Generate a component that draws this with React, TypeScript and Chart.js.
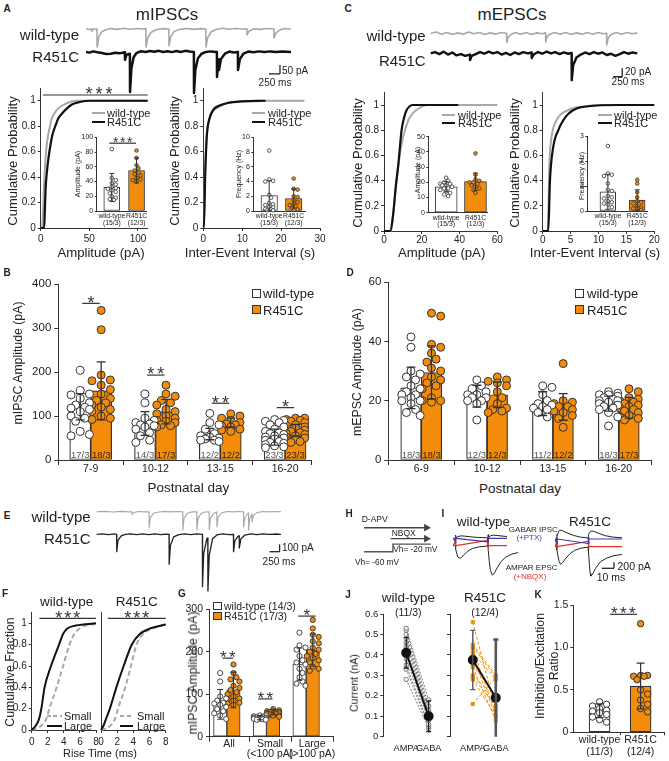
import React, { useEffect, useRef } from 'react';
import { Chart, registerables } from 'chart.js';

Chart.register(...registerables);

const FONT = '"Liberation Sans", Arial, Helvetica, sans-serif';
Chart.defaults.font.family = FONT;
Chart.defaults.color = '#222';

const ORANGE = '#f28c0a';
const AX = '#333333';
const LGRAY = '#a8a8a8';
const DARK = '#111111';
const BLUE = '#3c3cb4';
const RED = '#e5322d';

/* ===================== DATA ===================== */

/* A – representative mIPSC traces: [time (ms), current (pA)] */
const traceA_WT = [[0,2],[60,-3],[128,0],[130,-12],[180,1],[249,0],[252,-100],[290,-45],[360,-15],[450,-4],[560,3],[700,-2],[850,4],[1000,-1],[1150,3],[1300,0],[1359,2],[1362,-100],[1400,-50],[1480,-18],[1600,-3],[1750,2],[1880,0],[1883,-94],[1920,-45],[2000,-14],[2120,-2],[2300,3],[2450,-2],[2600,2],[2719,0],[2722,-100],[2760,-48],[2840,-15],[2950,-3],[3100,4],[3250,-1],[3400,3],[3550,0],[3650,1],[3652,-33],[3700,-12],[3800,1],[3950,-2],[4100,3],[4262,0],[4264,-50],[4310,-22],[4400,-5],[4500,3],[4650,0]];
const traceA_R451C = [[0,0],[80,-4],[160,3],[260,-2],[360,-6],[460,-12],[560,-10],[660,-5],[760,-8],[880,-2],[884,-44],[920,-15],[996,-10],[999,-222],[1030,-90],[1080,-30],[1150,-5],[1250,4],[1350,0],[1450,5],[1550,1],[1650,6],[1750,0],[1850,4],[1950,-1],[2050,5],[2150,0],[2250,6],[2350,2],[2447,0],[2450,-228],[2480,-100],[2540,-35],[2620,-10],[2720,0],[2820,3],[2969,0],[2972,-139],[3000,-60],[3014,-40],[3017,-100],[3060,-40],[3150,-10],[3250,2],[3350,-3],[3445,0],[3448,-100],[3490,-40],[3570,-10],[3680,2],[3800,-2],[3920,3],[4050,-1],[4180,3],[4300,0],[4450,2],[4650,0]];

/* A – cumulative distributions */
const aAmpWT_x = [0, 1.5, 2.5, 3.5, 4.5, 5.5, 7, 9, 11, 14, 18, 24, 30, 37, 110];
const aAmpWT_y = [0, 0, 0.15, 0.35, 0.5, 0.6, 0.7, 0.78, 0.85, 0.9, 0.94, 0.97, 0.99, 1, 1];
const aAmpMut_x = [0, 3.5, 4.2, 5, 6.5, 8, 10, 12, 15, 18, 22, 27, 32, 40, 51, 110];
const aAmpMut_y = [0, 0, 0.12, 0.3, 0.45, 0.55, 0.65, 0.73, 0.8, 0.86, 0.9, 0.94, 0.97, 0.99, 1, 1];
const aIeiWT_x = [0, 0.1, 0.4, 0.8, 1.5, 2.6, 4, 6, 10, 14.6, 26];
const aIeiWT_y = [0, 0, 0.4, 0.7, 0.85, 0.92, 0.95, 0.98, 0.995, 1, 1];
const aIeiMut_x = [0, 0.15, 0.5, 0.9, 1.6, 2.6, 4, 6, 10, 16];
const aIeiMut_y = [0, 0, 0.42, 0.72, 0.86, 0.93, 0.96, 0.98, 0.995, 1];

/* A – insets */
const aInsAmpWT = [84, 45, 42, 38, 36, 33, 31, 30, 28, 26, 24, 20, 18, 16, 15];
const aInsAmpMut = [82, 72, 62, 58, 55, 52, 50, 48, 45, 43, 42, 40];
const aInsAmpMean = [32, 55];
const aInsAmpSD = [19, 17];
const aInsFreqWT = [8.2, 4.3, 4.1, 4.0, 2.2, 1.8, 1.1, 0.9, 0.8, 0.6, 0.5, 0.3, 0.2, 0.1, 0.1];
const aInsFreqMut = [4.4, 3.0, 2.9, 2.0, 1.9, 1.5, 1.2, 1.0, 0.8, 0.6, 0.4, 0.2];
const aInsFreqMean = [2.1, 1.7];
const aInsFreqSD = [2.0, 1.3];
const insetLabels = [['wild-type', '(15/3)'], ['R451C', '(12/3)']];

/* C – representative mEPSC traces */
const traceC_WT = [[0,0],[150,3],[300,-2],[450,2],[600,-3],[750,1],[900,-2],[1050,3],[1200,-1],[1350,2],[1500,-3],[1650,1],[1800,-2],[1950,2],[2109,0],[2112,-22],[2150,-10],[2230,-3],[2350,2],[2500,-2],[2650,2],[2800,-3],[2950,1],[3100,-1],[3192,1],[3195,-21],[3230,-9],[3310,-2],[3450,2],[3600,-2],[3750,2],[3900,-3],[4050,1],[4200,-2],[4350,2],[4500,-2],[4650,2],[4800,-1],[4887,0],[4890,-28],[4930,-12],[5010,-3],[5150,2],[5300,-2],[5450,2],[5600,-1],[5740,1]];
const traceC_R451C = [[0,0],[120,3],[240,-2],[360,4],[480,-3],[600,2],[720,-5],[840,-2],[960,-6],[1090,-3],[1093,-16],[1140,-6],[1250,-2],[1370,3],[1490,-1],[1610,4],[1730,0],[1850,3],[1970,-3],[2090,1],[2210,-4],[2330,2],[2450,-2],[2570,3],[2700,0],[2804,2],[2807,-11],[2860,-3],[2980,3],[3100,-1],[3220,4],[3340,0],[3460,3],[3580,-2],[3700,2],[3820,-1],[3915,1],[3918,-64],[3960,-28],[4050,-10],[4170,-3],[4290,2],[4410,-2],[4530,3],[4650,-1],[4770,2],[4890,-4],[5010,-1],[5130,-6],[5250,-2],[5370,3],[5490,-1],[5610,2],[5740,0]];

/* C – cumulative distributions */
const cAmpWT_x = [0, 3.7, 5, 6.7, 8.5, 10.2, 12.9, 15, 18.2, 22.6, 60];
const cAmpWT_y = [0, 0, 0.15, 0.4, 0.62, 0.75, 0.88, 0.93, 0.97, 1, 1];
const cAmpMut_x = [0, 3.2, 4.9, 6.2, 7.6, 9.3, 10.5, 12, 15.5, 39.3];
const cAmpMut_y = [0, 0, 0.14, 0.35, 0.53, 0.8, 0.89, 0.96, 1, 1];
const cIeiWT_x = [0, 0.9, 1.2, 1.6, 2.5, 4.6, 7.6, 10.6, 16];
const cIeiWT_y = [0, 0, 0.54, 0.75, 0.88, 0.96, 0.99, 1, 1];
const cIeiMut_x = [0, 1.0, 1.3, 1.9, 2.8, 4.6, 8.2, 13.6, 20];
const cIeiMut_y = [0, 0, 0.4, 0.67, 0.8, 0.93, 0.99, 1, 1];

/* C – insets */
const cInsAmpWT = [23, 21, 20, 19, 19, 18, 18, 17, 16, 16, 15, 14, 13, 12, 11];
const cInsAmpMut = [39, 25, 22, 21, 20, 20, 19, 18, 17, 16, 15, 13];
const cInsAmpMean = [17.1, 20.4];
const cInsAmpSD = [3.3, 5.7];
const cInsFreqWT = [2.6, 1.5, 1.45, 1.4, 1.1, 0.85, 0.8, 0.6, 0.55, 0.5, 0.4, 0.35, 0.3, 0.25, 0.15];
const cInsFreqMut = [1.25, 1.1, 0.75, 0.55, 0.4, 0.35, 0.3, 0.2, 0.15, 0.1, 0.1, 0.05];
const cInsFreqMean = [0.77, 0.44];
const cInsFreqSD = [0.7, 0.41];

/* B – mIPSC amplitude by postnatal day */
const bGroups = ['7-9', '10-12', '13-15', '16-20'];
const bWT = [
  [204, 158, 150, 148, 140, 130, 125, 120, 118, 115, 110, 100, 95, 88, 65, 58, 55],
  [150, 130, 95, 90, 85, 82, 80, 78, 75, 70, 62, 55, 45, 40],
  [106, 85, 80, 70, 60, 55, 52, 50, 48, 45, 45, 42],
  [92, 90, 88, 85, 80, 75, 70, 65, 62, 60, 58, 55, 52, 50, 48, 45, 42, 40, 38, 35, 32, 30, 28],
];
const bMut = [
  [340, 296, 193, 182, 180, 170, 160, 150, 140, 135, 130, 125, 120, 115, 110, 100, 95, 92],
  [170, 150, 145, 135, 130, 125, 115, 110, 105, 100, 95, 90, 88, 85, 80, 78, 75],
  [105, 100, 95, 90, 85, 82, 80, 78, 75, 70, 68, 65],
  [95, 95, 92, 90, 88, 85, 80, 78, 75, 72, 70, 68, 65, 62, 60, 58, 55, 52, 50, 48, 45, 42, 40],
];
const bWTMean = [121, 83, 59, 52];
const bMutMean = [157, 110, 85, 67];
const bWTSD = [30, 27, 13, 18];
const bMutSD = [66, 28, 10, 14];
const bNWT = ['17/3', '14/3', '12/2', '23/3'];
const bNMut = ['18/3', '17/3', '12/2', '23/3'];
const bSigStars = [1, 2, 2, 1];
const bSigY = [356, 193, 129, 119];

/* D – mEPSC amplitude by postnatal day */
const dGroups = ['6-9', '10-12', '13-15', '16-20'];
const dWT = [
  [41.5, 38, 30, 29, 28, 27, 25, 24, 23, 22, 22, 21, 20, 20, 19, 17, 16, 15],
  [27, 25, 24, 23, 22, 22, 21, 21, 20, 20, 19, 13.5],
  [25, 24.5, 22, 20, 19, 18.5, 18, 17.5, 17, 16, 14.5],
  [23, 22.5, 22, 22, 21.5, 21, 20.5, 20, 20, 19.5, 19, 18.5, 18, 17.5, 17, 16, 14.5, 11.5],
];
const dMut = [
  [49.5, 48.5, 39, 38, 36, 34, 33, 31, 30, 28, 27, 26, 25, 24, 21, 20, 20, 19.5],
  [28, 27, 26.5, 26, 25, 23, 21, 19, 17.5, 17, 16.5, 16],
  [32.5, 20, 19.5, 19, 18, 18, 17, 16.5, 16, 15, 14, 11],
  [24, 23, 21, 20.5, 20, 19.5, 19, 18.5, 18, 17.5, 17, 16.5, 16, 15, 14.5, 14, 13.5],
];
const dWTMean = [24.3, 21.5, 19, 19];
const dMutMean = [29.5, 22, 17.9, 17.6];
const dWTSD = [7, 3.7, 4, 2.5];
const dMutSD = [9, 4.3, 4.5, 3.5];
const dNWT = ['18/3', '12/3', '11/2', '18/3'];
const dNMut = ['18/3', '12/3', '12/2', '17/3'];

/* E – representative traces */
const traceE_WT = [[0,0],[200,5],[400,-3],[600,4],[800,-2],[881,0],[884,-40],[930,-10],[1050,3],[1200,-2],[1306,0],[1309,-220],[1340,-80],[1420,-20],[1550,-3],[1700,4],[1850,-2],[2000,3],[2148,0],[2151,-247],[2180,-90],[2260,-22],[2380,-2],[2498,0],[2501,-247],[2530,-90],[2610,-22],[2700,-3],[2806,0],[2809,-247],[2840,-90],[2920,-22],[2998,-5],[3001,-207],[3030,-75],[3110,-18],[3250,3],[3400,-2],[3550,3],[3663,0],[3666,-207],[3700,-75],[3788,-15],[3791,-247],[3820,-90],[3873,-30],[3876,-140],[3910,-50],[4000,-12],[4150,3],[4300,-2],[4450,2],[4600,0]];
const traceE_R451C = [[0,0],[150,6],[300,-4],[450,5],[498,0],[501,-235],[530,-85],[610,-20],[720,-2],[850,5],[1000,-4],[1150,6],[1300,-3],[1450,5],[1600,-4],[1720,3],[1806,0],[1809,-405],[1840,-150],[1920,-35],[2050,-3],[2200,5],[2350,-4],[2500,5],[2638,0],[2641,-708],[2670,-260],[2750,-60],[2773,-50],[2776,-766],[2810,-280],[2890,-60],[3000,-8],[3150,5],[3300,-3],[3413,0],[3416,-235],[3450,-85],[3530,-25],[3556,-20],[3559,-185],[3600,-60],[3700,-10],[3850,5],[4000,-3],[4150,5],[4300,-2],[4450,4],[4600,0]];

/* F – rise-time cumulative fractions (ms) */
const fWtLarge_x = [0, 0.5, 0.9, 1.2, 1.6, 2.4, 3.4, 3.9, 4.4, 5.5, 8];
const fWtLarge_y = [0, 0.04, 0.1, 0.2, 0.4, 0.6, 0.8, 0.9, 0.95, 0.98, 1];
const fWtSmall_x = [0, 1.0, 1.8, 2.2, 3.1, 3.9, 4.7, 5.3, 6.4, 8];
const fWtSmall_y = [0, 0.03, 0.1, 0.2, 0.4, 0.6, 0.8, 0.9, 0.97, 0.995];
const fMutLarge_x = [0, 0.3, 0.6, 1.1, 1.9, 2.8, 3.8, 4.8, 6, 8];
const fMutLarge_y = [0, 0.04, 0.1, 0.2, 0.4, 0.6, 0.8, 0.9, 0.95, 0.99];
const fMutSmall_x = [0, 1.0, 1.7, 2.1, 3.0, 3.7, 4.4, 5.2, 6.3, 8];
const fMutSmall_y = [0, 0.03, 0.1, 0.2, 0.4, 0.6, 0.8, 0.9, 0.95, 0.99];

/* G – mIPSC amplitude by size class */
const gGroups = [['All'], ['Small', '(<100 pA)'], ['Large', '(>100 pA)']];
const gWT = [
  [150, 130, 95, 90, 85, 80, 78, 75, 70, 65, 60, 55, 50, 42],
  [50, 50, 48, 47, 46, 45, 45, 44, 43, 42, 42, 41, 40, 40],
  [245, 215, 210, 205, 190, 180, 175, 170, 160, 150, 140, 130, 125, 120],
];
const gMut = [
  [170, 150, 140, 135, 130, 120, 115, 110, 105, 100, 95, 90, 88, 85, 80, 78, 75],
  [65, 62, 60, 60, 58, 58, 57, 56, 55, 55, 54, 53, 52, 50, 50, 48, 47],
  [275, 255, 240, 235, 225, 220, 210, 205, 200, 195, 190, 185, 180, 175, 165, 160, 155],
];
const gWTMean = [76, 45, 171];
const gMutMean = [110, 57.5, 204];
const gWTSD = [35, 5, 38];
const gMutSD = [42, 6, 38];
const gSigStars = [2, 2, 1];
const gSigY = [185, 89, 284];

/* H – recording protocol */
const hTime = [6, 44, 44, 94];
const hVh = [-60, -60, -20, -20];
const hDrugs = ['D-APV', 'NBQX'];
const hDrugOn = [6, 41];
const hDrugOff = [88, 88];

/* I – evoked currents (ms, pA) */
const iWT_GABA = [[0,0],[1.9,0],[2,-120],[2.2,110],[2.5,0],[3.5,50],[6,80],[9,75],[14,50],[20,30],[28.4,15],[28.5,-130],[28.7,120],[29,20],[30.5,85],[33,105],[36,95],[40,75],[44,60]];
const iWT_PTX = [[0,0],[2,-120],[2.2,60],[2.5,0],[28.5,-120],[28.7,60],[29,0],[44,0]];
const iWT_AMPA = [[0,0],[1.9,0],[2,150],[2.2,-100],[3,-250],[4,-380],[5.7,-420],[7,-390],[9,-300],[12,-180],[16,-90],[21,-40],[28.4,-10],[28.5,180],[28.7,-150],[29.5,-500],[30.5,-820],[32,-977],[33.5,-930],[36,-740],[39,-540],[43,-380],[48,-280],[53,-230]];
const iWT_NBQX = [[0,0],[2,150],[2.2,-40],[2.5,0],[28.5,180],[28.7,-40],[29,0],[44,0]];
const iMut_GABA = [[0,0],[1.3,0],[1.4,-150],[1.6,150],[2,120],[3,260],[4,300],[6,280],[10,200],[15,120],[21,60],[27,35],[27.1,-150],[27.3,150],[28,200],[29.5,270],[32,250],[36,180],[41,110],[47,65],[54.5,40]];
const iMut_PTX = [[0,0],[1.4,-150],[1.6,60],[1.9,0],[27.1,-150],[27.3,60],[27.6,0],[54.5,0]];
const iMut_AMPA = [[0,0],[1.3,0],[1.4,150],[1.6,-100],[2.4,-300],[3.4,-500],[4.6,-590],[6,-540],[8.5,-400],[12,-240],[16,-120],[21,-50],[27,-15],[27.1,180],[27.3,-150],[28,-600],[28.6,-900],[29.2,-980],[30.5,-920],[33,-720],[37,-500],[42,-380],[48,-300],[54.5,-257]];
const iMut_NBQX = [[0,0],[1.4,150],[1.6,-40],[1.9,0],[27.1,180],[27.3,-40],[27.6,0],[54.5,0]];

/* J – AMPA / GABA currents (nA) */
const jWtAmpa = [0.53, 0.52, 0.50, 0.48, 0.46, 0.44, 0.41, 0.38, 0.35, 0.33, 0.28];
const jWtGaba = [0.18, 0.15, 0.13, 0.12, 0.11, 0.10, 0.09, 0.08, 0.06, 0.05, 0.04];
const jWtMean = [0.41, 0.10];
const jWtSD = [0.075, 0.075];
const jMutAmpa = [0.56, 0.45, 0.44, 0.43, 0.41, 0.39, 0.35, 0.34, 0.30, 0.29, 0.28, 0.16];
const jMutGaba = [0.13, 0.30, 0.29, 0.11, 0.28, 0.10, 0.20, 0.08, 0.19, 0.15, 0.10, 0.29];
const jMutMean = [0.375, 0.19];
const jMutSD = [0.145, 0.285];
const jCats = ['AMPA', 'GABA'];

/* K – inhibition / excitation ratio */
const kLabels = [['wild-type', '(11/3)'], ['R451C', '(12/4)']];
const kWT = [0.36, 0.33, 0.31, 0.28, 0.26, 0.25, 0.23, 0.21, 0.18, 0.15, 0.12];
const kMut = [1.28, 0.67, 0.67, 0.66, 0.66, 0.62, 0.50, 0.45, 0.38, 0.33, 0.28, 0.24];
const kMean = [0.254, 0.545];
const kSD = [0.08, 0.27];

/* ===================== HELPERS ===================== */

const pts = (xs: number[], ys: number[]) => xs.map((x, i) => ({ x, y: ys[i] }));
const pairs = (d: number[][]) => d.map(([x, y]) => ({ x, y }));

function place(area: number[], m: number[], hasY: boolean, hasX: boolean) {
  const left = Math.floor(area[0] - m[0]);
  const top = Math.floor(area[1] - m[1]);
  const right = Math.ceil(area[2] + m[2]);
  const bottom = Math.ceil(area[3] + m[3]);
  const pl = area[0] - left, pt = area[1] - top, pr = right - area[2], pb = bottom - area[3];
  return {
    left, top, w: right - left, h: bottom - top, pl, pt, pr, pb,
    padding: { left: hasY ? 0 : pl, top: pt, right: pr, bottom: hasX ? 0 : pb },
  };
}

function baseOptions(p: any) {
  return {
    responsive: false, maintainAspectRatio: false, animation: false, events: [], devicePixelRatio: 1,
    layout: { padding: p.padding },
    plugins: { legend: { display: false }, tooltip: { enabled: false }, title: { display: false } },
  };
}

function axisCfg(o: any, fit?: number) {
  const tl = o.tl ?? 3;
  const marks = o.marks;
  const cfg: any = {
    type: 'linear', min: o.min, max: o.max, display: o.show !== false, offset: false,
    grid: {
      display: tl > 0, drawOnChartArea: false, drawTicks: true, tickLength: tl, offset: false,
      color: AX, lineWidth: 1, tickWidth: 1,
      tickColor: marks ? (c: any) => (marks[c.index] ? AX : 'rgba(0,0,0,0)') : AX,
    },
    border: { display: o.border !== false, color: AX, width: 1 },
    ticks: {
      display: !!o.ticks,
      autoSkip: false, maxRotation: 0, minRotation: 0, padding: o.pad ?? 3,
      color: '#222', font: { size: o.size ?? 10, lineHeight: o.lh ?? 1.15 },
      callback: (v: number, i: number) => (o.labels ? o.labels[i] : String(v)),
    },
  };
  if (o.ticks) cfg.afterBuildTicks = (s: any) => { s.ticks = o.ticks.map((v: number) => ({ value: v })); };
  if (fit !== undefined) {
    cfg.afterFit = (s: any) => {
      if (s.isHorizontal()) s.height = fit; else s.width = fit;
      s.paddingLeft = 0; s.paddingRight = 0; s.paddingTop = 0; s.paddingBottom = 0;
    };
  }
  return cfg;
}

function drawDeco(chart: any, d: any) {
  const ctx = chart.ctx;
  const ca = chart.chartArea;
  const px = (v: number) => chart.scales.x.getPixelForValue(v);
  const py = (v: number, ax?: string) => chart.scales[ax || 'y'].getPixelForValue(v);
  ctx.save();
  for (const s of d.segs || []) {
    ctx.beginPath(); ctx.lineWidth = s.lw ?? 1.3; ctx.strokeStyle = s.color ?? '#222';
    ctx.moveTo(px(s.x1), py(s.y1, s.ax)); ctx.lineTo(px(s.x2), py(s.y2, s.ax)); ctx.stroke();
  }
  for (const e of d.errors || []) {
    const x = px(e.x);
    const yt = py(e.m + e.sd, e.ax);
    const yb = Math.min(py(e.m - e.sd, e.ax), ca.bottom);
    ctx.beginPath(); ctx.lineWidth = e.lw ?? 1.2; ctx.strokeStyle = e.color ?? AX;
    ctx.moveTo(x, yt); ctx.lineTo(x, yb);
    ctx.moveTo(x - e.cap / 2, yt); ctx.lineTo(x + e.cap / 2, yt);
    if (yb < ca.bottom - 0.5) { ctx.moveTo(x - e.cap / 2, yb); ctx.lineTo(x + e.cap / 2, yb); }
    ctx.stroke();
  }
  for (const b of d.brackets || []) {
    const y = py(b.y);
    ctx.beginPath(); ctx.lineWidth = b.lw ?? 1.2; ctx.strokeStyle = AX;
    ctx.moveTo(px(b.x1), y); ctx.lineTo(px(b.x2), y); ctx.stroke();
    const xc = b.xc !== undefined ? px(b.xc) : (px(b.x1) + px(b.x2)) / 2;
    ctx.font = `${b.size}px ${FONT}`; ctx.textAlign = 'center'; ctx.textBaseline = 'alphabetic'; ctx.fillStyle = '#333';
    for (let k = 0; k < b.n; k++) {
      const sx = xc + (k - (b.n - 1) / 2) * b.sp;
      ctx.fillText('*', sx, y - b.dy + 0.575 * b.size);
    }
  }
  for (const l of d.labels || []) {
    ctx.font = `${l.size}px ${FONT}`; ctx.textAlign = 'center'; ctx.textBaseline = 'alphabetic';
    ctx.fillStyle = l.color ?? '#222';
    ctx.fillText(l.text, px(l.x), py(l.y) + l.dy);
  }
  ctx.restore();
}

const decoPlugin = (d: any) => ({ id: 'deco', afterDatasetsDraw(chart: any) { drawDeco(chart, d || {}); } });

function swarm(vals: number[], yPx: number, r: number, halfW: number) {
  const idx = vals.map((_, i) => i).sort((a, b) => vals[b] - vals[a]);
  const placed: { x: number; y: number }[] = [];
  const out = new Array(vals.length).fill(0);
  const step = r * 1.15;
  const n = Math.max(0, Math.floor(halfW / step));
  const cands = [0];
  for (let k = 1; k <= n; k++) cands.push(k * step, -k * step);
  const minD = 2 * r * 0.92;
  for (const i of idx) {
    const y = vals[i] * yPx;
    let best = 0, bestScore = Infinity;
    for (const c of cands) {
      let ov = 0;
      for (const q of placed) { const dd = Math.hypot(q.x - c, q.y - y); if (dd < minD) ov += minD - dd; }
      if (ov === 0) { best = c; bestScore = 0; break; }
      if (ov < bestScore) { bestScore = ov; best = c; }
    }
    placed.push({ x: best, y }); out[i] = best;
  }
  return out;
}

function catTicks(centers: number[], labels: any[], bounds: number[]) {
  const items = [
    ...centers.map((v, i) => ({ v, l: labels[i], m: false })),
    ...bounds.map((v) => ({ v, l: '', m: true })),
  ].sort((a, b) => a.v - b.v);
  return { ticks: items.map((i) => i.v), labels: items.map((i) => i.l), marks: items.map((i) => i.m) };
}

const scaleBar = (x0: number, y0: number, dx: number, dy: number, ax?: string) => [
  { x1: x0, y1: y0, x2: x0 + dx, y2: y0, ax },
  { x1: x0 + dx, y1: y0, x2: x0 + dx, y2: y0 + dy, ax },
];

function traceChart(area: number[], xr: number[], yAxes: Record<string, number[]>, series: any[], deco?: any) {
  const p = place(area, [0, 0, 0, 0], false, false);
  const make = () => {
    const scales: any = { x: { type: 'linear', display: false, min: xr[0], max: xr[1] }, y: { display: false } };
    for (const id of Object.keys(yAxes)) scales[id] = { type: 'linear', display: false, min: yAxes[id][0], max: yAxes[id][1] };
    const datasets = series.map((s) => ({
      type: 'scatter', showLine: true, data: pairs(s.d), yAxisID: s.ax || 'y',
      borderColor: s.color, borderWidth: s.lw ?? 1, pointRadius: 0, tension: 0, clip: false, borderJoinStyle: 'round',
    }));
    return { type: 'scatter', data: { datasets }, options: { ...baseOptions(p), scales }, plugins: [decoPlugin(deco)] };
  };
  return { p, make };
}

function cumChart(o: any) {
  const p = place(o.area, o.m, true, true);
  const make = () => {
    const datasets = o.series.map((s: any) => ({
      type: 'scatter', showLine: true, data: pts(s.x, s.y), borderColor: s.color, borderWidth: s.lw ?? 2,
      borderDash: s.dash || [], pointRadius: 0, cubicInterpolationMode: 'monotone', clip: false,
    }));
    return {
      type: 'scatter', data: { datasets },
      options: { ...baseOptions(p), scales: { x: axisCfg(o.x, p.pb), y: axisCfg(o.y, p.pl) } },
      plugins: [decoPlugin(o.deco)],
    };
  };
  return { p, make };
}

function barChart(o: any) {
  const p = place(o.area, o.m, true, true);
  const make = () => {
    const xPx = (o.area[2] - o.area[0]) / (o.x.max - o.x.min);
    const yPx = (o.area[3] - o.area[1]) / (o.y.max - o.y.min);
    const datasets: any[] = [];
    const errors: any[] = [];
    const labels: any[] = [];
    [0, 1].forEach((k) => {
      const bars = o.bars.filter((b: any) => b.k === k);
      const fill = k === 0 ? '#ffffff' : ORANGE;
      datasets.push({
        type: 'bar', data: bars.map((b: any) => ({ x: b.x, y: b.mean })), backgroundColor: fill,
        borderColor: AX, borderWidth: o.bw ?? 1.2, borderSkipped: false, barThickness: o.barPx, grouped: false, order: 3,
      });
      const sc: any[] = [];
      bars.forEach((b: any) => {
        const off = swarm(b.pts, yPx, o.r, o.barPx * (o.spread ?? 0.4));
        b.pts.forEach((v: number, i: number) => sc.push({ x: b.x + off[i] / xPx, y: v }));
        errors.push({ x: b.x, m: b.mean, sd: b.sd, cap: o.cap, lw: o.elw ?? 1.2 });
        if (b.nl) labels.push({ x: b.x, y: 0, dy: o.ndy ?? -2.5, text: b.nl, size: o.nSize ?? 9.5, color: k === 0 ? '#555' : '#3a2606' });
      });
      datasets.push({
        type: 'scatter', data: sc, pointRadius: o.r, pointBackgroundColor: fill, pointBorderColor: AX,
        pointBorderWidth: o.plw ?? 1, order: 1, clip: false,
      });
    });
    return {
      type: 'bar', data: { datasets },
      options: { ...baseOptions(p), scales: { x: axisCfg(o.x, p.pb), y: axisCfg(o.y, p.pl) } },
      plugins: [decoPlugin({ errors, labels, brackets: o.brackets || [] })],
    };
  };
  return { p, make };
}

function jChart(o: any) {
  const p = place(o.area, o.m, true, true);
  const make = () => {
    const datasets: any[] = o.ampa.map((a: number, i: number) => ({
      type: 'scatter', showLine: true, data: [{ x: 0, y: a }, { x: 1, y: o.gaba[i] }],
      borderColor: o.pc, borderWidth: 1, borderDash: o.dash, pointRadius: o.pr, pointStyle: o.ps,
      pointBackgroundColor: o.pfill, pointBorderColor: o.pc, pointBorderWidth: 1, order: 2, clip: false,
    }));
    datasets.push({
      type: 'scatter', showLine: true, data: [{ x: 0, y: o.mean[0] }, { x: 1, y: o.mean[1] }],
      borderColor: DARK, borderWidth: 2, pointRadius: 4, pointBackgroundColor: DARK, pointBorderColor: DARK, order: 0, clip: false,
    });
    const errors = [0, 1].map((i) => ({ x: i, m: o.mean[i], sd: o.sd[i], cap: 5, lw: o.elw[i], color: o.ec }));
    return {
      type: 'scatter', data: { datasets },
      options: { ...baseOptions(p), scales: { x: axisCfg(o.x, p.pb), y: axisCfg(o.y, p.pl) } },
      plugins: [decoPlugin({ errors })],
    };
  };
  return { p, make };
}

function hChart() {
  const area = [355, 515, 440, 565];
  const p = place(area, [0, 0, 0, 0], false, false);
  const make = () => {
    const datasets: any[] = [{
      type: 'scatter', showLine: true, data: pts(hTime, hVh), yAxisID: 'yv', borderColor: '#555', borderWidth: 1.4, pointRadius: 0, clip: false,
    }];
    hDrugs.forEach((_, i) => {
      const row = hDrugs.length - i;
      datasets.push({
        type: 'scatter', showLine: true, data: [{ x: hDrugOn[i], y: row }, { x: hDrugOff[i], y: row }], yAxisID: 'yd',
        borderColor: '#444', borderWidth: 1.4, pointRadius: [0, 4.5], pointStyle: 'triangle', rotation: 90,
        pointBackgroundColor: '#444', pointBorderColor: '#444', pointBorderWidth: 0, clip: false,
      });
    });
    return {
      type: 'scatter', data: { datasets },
      options: {
        ...baseOptions(p),
        scales: {
          x: { type: 'linear', display: false, min: 0, max: 100 }, y: { display: false },
          yv: { type: 'linear', display: false, min: -106, max: 109 },
          yd: { type: 'linear', display: false, min: -1, max: 2.75 },
        },
      },
    };
  };
  return { p, make };
}

/* ===================== CHART SPECS ===================== */

const bBw = 21 / 65;
const dBw = 20.5 / 65.85;
const gBw = 13.3 / 39.7;

const cumY = { min: 0, max: 1.1, ticks: [0, 0.2, 0.4, 0.6, 0.8, 1], size: 10, tl: 3, pad: 2 };
const insetX = (min: number, max: number) => ({ min, max, ticks: [0, 1], labels: insetLabels, size: 6.8, lh: 1.0, tl: 0, pad: 1.6 });

const SPECS = [
  // A traces
  traceChart([86, 20, 291, 55], [0, 4650], { y: [-144, 50] }, [{ d: traceA_WT, color: LGRAY, lw: 1.6 }]),
  traceChart([86, 44, 291, 100], [0, 4650], { y: [-267, 44] }, [{ d: traceA_R451C, color: DARK, lw: 2.5 }], { segs: scaleBar(4150, -122, 250, 50) }),
  // A cumulative
  cumChart({
    area: [40.7, 88, 147.7, 228], m: [34, 6, 6, 20],
    x: { min: 0, max: 110, ticks: [0, 50, 100], size: 10, tl: 3, pad: 2.3 }, y: cumY,
    series: [{ x: aAmpMut_x, y: aAmpMut_y, color: DARK, lw: 2.2 }, { x: aAmpWT_x, y: aAmpWT_y, color: LGRAY, lw: 2 }],
    deco: { brackets: [{ x1: 2.4, x2: 110, y: 1.045, n: 3, size: 18, sp: 10, dy: 5, xc: 60 }] },
  }),
  barChart({
    area: [96.7, 137.3, 148.3, 211], m: [16, 5, 2, 18],
    x: insetX(-0.61, 1.39), y: { min: 0, max: 100, ticks: [0, 20, 40, 60, 80, 100], size: 7, tl: 2, pad: 1.5 },
    barPx: 16, r: 1.8, cap: 5, elw: 1, bw: 1, plw: 0.8, spread: 0.35,
    bars: [
      { x: 0, mean: aInsAmpMean[0], sd: aInsAmpSD[0], pts: aInsAmpWT, k: 0 },
      { x: 1, mean: aInsAmpMean[1], sd: aInsAmpSD[1], pts: aInsAmpMut, k: 1 },
    ],
    brackets: [{ x1: -0.1, x2: 0.98, y: 92, n: 3, size: 14, sp: 7, dy: 4 }],
  }),
  cumChart({
    area: [203.3, 88, 320, 228], m: [34, 6, 8, 20],
    x: { min: 0, max: 30, ticks: [0, 10, 20, 30], size: 10, tl: 3, pad: 2.3 }, y: cumY,
    series: [{ x: aIeiMut_x, y: aIeiMut_y, color: DARK, lw: 2.2 }, { x: aIeiWT_x, y: aIeiWT_y, color: LGRAY, lw: 2 }],
  }),
  barChart({
    area: [253.3, 137.3, 308, 211], m: [16, 5, 2, 18],
    x: insetX(-0.65, 1.47), y: { min: 0, max: 10, ticks: [0, 2, 4, 6, 8, 10], size: 7, tl: 2, pad: 1.5 },
    barPx: 16.5, r: 1.8, cap: 5, elw: 1, bw: 1, plw: 0.8, spread: 0.35,
    bars: [
      { x: 0, mean: aInsFreqMean[0], sd: aInsFreqSD[0], pts: aInsFreqWT, k: 0 },
      { x: 1, mean: aInsFreqMean[1], sd: aInsFreqSD[1], pts: aInsFreqMut, k: 1 },
    ],
  }),
  // C traces
  traceChart([430.7, 25, 637.3, 50], [0, 5740], { y: [-39.8, 19.8] }, [{ d: traceC_WT, color: LGRAY, lw: 1.6 }]),
  traceChart([430.7, 45, 637.3, 85], [0, 5740], { y: [-75.5, 19.8] }, [{ d: traceC_R451C, color: DARK, lw: 2.4 }], { segs: scaleBar(5072, -55.7, 250, 20) }),
  // C cumulative
  cumChart({
    area: [384, 92.4, 497.3, 231], m: [34, 6, 6, 20],
    x: { min: 0, max: 60, ticks: [0, 20, 40, 60], size: 10, tl: 3, pad: 0.5 }, y: cumY,
    series: [{ x: cAmpMut_x, y: cAmpMut_y, color: DARK, lw: 2.2 }, { x: cAmpWT_x, y: cAmpWT_y, color: LGRAY, lw: 2 }],
  }),
  barChart({
    area: [428.3, 136.7, 490, 212.7], m: [16, 5, 2, 18],
    x: insetX(-0.61, 1.4), y: { min: 0, max: 50, ticks: [0, 10, 20, 30, 40, 50], size: 7, tl: 2, pad: 1.5 },
    barPx: 22, r: 1.8, cap: 5, elw: 1, bw: 1, plw: 0.8, spread: 0.35,
    bars: [
      { x: 0, mean: cInsAmpMean[0], sd: cInsAmpSD[0], pts: cInsAmpWT, k: 0 },
      { x: 1, mean: cInsAmpMean[1], sd: cInsAmpSD[1], pts: cInsAmpMut, k: 1 },
    ],
  }),
  cumChart({
    area: [542.7, 92.4, 654.3, 231], m: [34, 6, 10, 20],
    x: { min: 0, max: 20, ticks: [0, 5, 10, 15, 20], size: 10, tl: 3, pad: 0.5 }, y: cumY,
    series: [{ x: cIeiMut_x, y: cIeiMut_y, color: DARK, lw: 2.2 }, { x: cIeiWT_x, y: cIeiWT_y, color: LGRAY, lw: 2 }],
  }),
  barChart({
    area: [587.3, 136, 650, 211], m: [16, 5, 2, 18],
    x: insetX(-0.7, 1.34), y: { min: 0, max: 3, ticks: [0, 1, 2, 3], size: 7, tl: 2, pad: 1.5 },
    barPx: 15.7, r: 1.8, cap: 5, elw: 1, bw: 1, plw: 0.8, spread: 0.35,
    bars: [
      { x: 0, mean: cInsFreqMean[0], sd: cInsFreqSD[0], pts: cInsFreqWT, k: 0 },
      { x: 1, mean: cInsFreqMean[1], sd: cInsFreqSD[1], pts: cInsFreqMut, k: 1 },
    ],
  }),
  // B
  barChart({
    area: [58.3, 284, 311.7, 460], m: [40, 8, 4, 20],
    x: { min: -0.5, max: 3.4, ...catTicks([0, 1, 2, 3], bGroups, [-0.5, 0.5, 1.5, 2.5, 3.4]), size: 10.5, tl: 5, pad: -1.5 },
    y: { min: 0, max: 400, ticks: [0, 100, 200, 300, 400], size: 11.5, tl: 4, pad: 3 },
    barPx: 21, r: 4, cap: 9, elw: 1.3, bw: 1.2, plw: 1, spread: 0.55,
    bars: bGroups.flatMap((_, i) => [
      { x: i - bBw / 2, mean: bWTMean[i], sd: bWTSD[i], pts: bWT[i], k: 0, nl: bNWT[i] },
      { x: i + bBw / 2, mean: bMutMean[i], sd: bMutSD[i], pts: bMut[i], k: 1, nl: bNMut[i] },
    ]),
    brackets: bSigY.map((y, i) => ({ x1: i - 0.13, x2: i + 0.14, y, n: bSigStars[i], size: 18, sp: 10, dy: 5 })),
  }),
  // D
  barChart({
    area: [388.3, 282, 651.7, 460], m: [40, 8, 6, 20],
    x: { min: -0.5, max: 3.5, ...catTicks([0, 1, 2, 3], dGroups, [-0.5, 0.5, 1.5, 2.5, 3.5]), size: 10.5, tl: 5, pad: -1.5 },
    y: { min: 0, max: 60, ticks: [0, 20, 40, 60], size: 11.5, tl: 4, pad: 3 },
    barPx: 20.5, r: 4, cap: 9, elw: 1.3, bw: 1.2, plw: 1, spread: 0.55,
    bars: dGroups.flatMap((_, i) => [
      { x: i - dBw / 2, mean: dWTMean[i], sd: dWTSD[i], pts: dWT[i], k: 0, nl: dNWT[i] },
      { x: i + dBw / 2, mean: dMutMean[i], sd: dMutSD[i], pts: dMut[i], k: 1, nl: dNMut[i] },
    ]),
  }),
  // E traces
  traceChart([96.7, 500, 281, 540], [0, 4600], { y: [-382, 158] }, [{ d: traceE_WT, color: LGRAY, lw: 1.1 }]),
  traceChart([96.7, 525, 281, 600], [0, 4600], { y: [-888, 126] }, [{ d: traceE_R451C, color: '#222', lw: 1.3 }], { segs: scaleBar(4315, -235, 250, 100) }),
  // F
  cumChart({
    area: [31.7, 612.7, 96, 730], m: [24, 6, 3, 18],
    x: { min: 0, max: 8, ticks: [0, 2, 4, 6, 8], size: 10, tl: 3, pad: 3 }, y: cumY,
    series: [{ x: fWtLarge_x, y: fWtLarge_y, color: DARK, lw: 2 }, { x: fWtSmall_x, y: fWtSmall_y, color: LGRAY, lw: 2, dash: [5, 3] }],
    deco: { brackets: [{ x1: 0.96, x2: 8, y: 1.047, n: 3, size: 18, sp: 9, dy: 5 }] },
  }),
  cumChart({
    area: [101, 612.7, 165.7, 730], m: [4, 6, 4, 18],
    x: { min: 0, max: 8, ticks: [0, 2, 4, 6, 8], size: 10, tl: 3, pad: 3 }, y: { min: 0, max: 1.1, tl: 0 },
    series: [{ x: fMutLarge_x, y: fMutLarge_y, color: DARK, lw: 2 }, { x: fMutSmall_x, y: fMutSmall_y, color: LGRAY, lw: 2, dash: [5, 3] }],
    deco: { brackets: [{ x1: 0.84, x2: 8, y: 1.047, n: 3, size: 18, sp: 9, dy: 5 }] },
  }),
  // G
  barChart({
    area: [209, 609.3, 333.3, 736.7], m: [30, 6, 4, 24],
    x: { min: -0.45, max: 2.68, ...catTicks([0.055, 1.09, 2.15], gGroups, [-0.45, 0.56, 1.62, 2.68]), size: 10.5, lh: 1.0, tl: 5, pad: -3 },
    y: { min: 0, max: 300, ticks: [0, 100, 200, 300], size: 10.5, tl: 3, pad: 3 },
    barPx: 13.3, r: 2.6, cap: 6, elw: 1.1, bw: 1, plw: 0.9, spread: 0.5,
    bars: gGroups.flatMap((_, i) => [
      { x: i - gBw / 2, mean: gWTMean[i], sd: gWTSD[i], pts: gWT[i], k: 0 },
      { x: i + gBw / 2, mean: gMutMean[i], sd: gMutSD[i], pts: gMut[i], k: 1 },
    ]),
    brackets: [
      { x1: -0.11, x2: 0.16, y: gSigY[0], n: gSigStars[0], size: 17, sp: 9, dy: 5 },
      { x1: 0.79, x2: 1.15, y: gSigY[1], n: gSigStars[1], size: 17, sp: 9, dy: 5 },
      { x1: 1.8, x2: 2.24, y: gSigY[2], n: gSigStars[2], size: 17, sp: 9, dy: 5 },
    ],
  }),
  // H
  hChart(),
  // I
  traceChart([453, 518, 518, 582], [0, 53], { yA: [-1210, 923], yG: [-1457, 677] }, [
    { d: iWT_PTX, color: BLUE, lw: 1.2, ax: 'yG' },
    { d: iWT_NBQX, color: RED, lw: 1.2, ax: 'yA' },
    { d: iWT_GABA, color: '#222', lw: 1, ax: 'yG' },
    { d: iWT_AMPA, color: '#222', lw: 1, ax: 'yA' },
  ]),
  traceChart([555, 518, 622, 582], [0, 54.5], { yA: [-1177, 957], yG: [-1433, 700] }, [
    { d: iMut_PTX, color: BLUE, lw: 1.2, ax: 'yG' },
    { d: iMut_NBQX, color: RED, lw: 1.2, ax: 'yA' },
    { d: iMut_GABA, color: '#222', lw: 1, ax: 'yG' },
    { d: iMut_AMPA, color: '#222', lw: 1, ax: 'yA' },
  ], { segs: scaleBar(38, -720, 10, 200, 'yA') }),
  // J
  jChart({
    area: [383.3, 612.4, 445, 736.7], m: [26, 4, 2, 18],
    x: { min: -1.02, max: 1.55, ticks: [0, 1], labels: jCats, size: 9.2, tl: 0, pad: 6, border: false },
    y: { min: 0, max: 0.6, ticks: [0, 0.1, 0.2, 0.3, 0.4, 0.5, 0.6], size: 9.5, tl: 3, pad: 2 },
    ampa: jWtAmpa, gaba: jWtGaba, mean: jWtMean, sd: jWtSD, elw: [1.2, 1.2],
    pc: '#7a7a7a', dash: [2, 1.5], pr: 2.2, ps: 'circle', pfill: 'rgba(255,255,255,0.7)', ec: '#111',
  }),
  jChart({
    area: [450, 612.4, 515, 736.7], m: [6, 4, 2, 18],
    x: { min: -0.99, max: 1.66, ticks: [0, 1], labels: jCats, size: 9.2, tl: 0, pad: 6, border: false },
    y: { min: 0, max: 0.6, ticks: [0, 0.1, 0.2, 0.3, 0.4, 0.5, 0.6], labels: ['', '', '', '', '', '', ''], size: 9.5, tl: 3, pad: 0 },
    ampa: jMutAmpa, gaba: jMutGaba, mean: jMutMean, sd: jMutSD, elw: [1.4, 2.6],
    pc: ORANGE, dash: [3, 2], pr: 2.2, ps: 'rect', pfill: ORANGE, ec: '#555',
  }),
  // K
  barChart({
    area: [573.3, 605, 668, 732.3], m: [24, 5, 1, 28],
    x: { min: -0.64, max: 1.57, ...catTicks([0, 1], kLabels, [0.52, 1.57]), size: 10.5, lh: 1.1, tl: 3, pad: -0.5 },
    y: { min: 0, max: 1.5, ticks: [0, 0.5, 1, 1.5], labels: ['0', '0.5', '1.0', '1.5'], size: 10.5, tl: 3, pad: 2 },
    barPx: 21, r: 3.2, cap: 8, elw: 1.2, bw: 1.2, plw: 1, spread: 0.45,
    bars: [
      { x: 0, mean: kMean[0], sd: kSD[0], pts: kWT, k: 0 },
      { x: 1, mean: kMean[1], sd: kSD[1], pts: kMut, k: 1 },
    ],
    brackets: [{ x1: 0.25, x2: 0.91, y: 1.39, n: 3, size: 17, sp: 9, dy: 5 }],
  }),
];

/* ===================== TEXT / LEGEND ===================== */

type TxP = { s: string; x: number; y: number; size?: number; a?: string; rot?: number; bold?: boolean; c?: string };

const TEXTS: TxP[] = [
  // panel letters
  { s: 'A', x: 7, y: 9, size: 10, bold: true }, { s: 'B', x: 7, y: 273, size: 10, bold: true },
  { s: 'C', x: 348, y: 9, size: 10, bold: true }, { s: 'D', x: 350, y: 273, size: 10, bold: true },
  { s: 'E', x: 7, y: 516, size: 10, bold: true }, { s: 'F', x: 5, y: 594, size: 10, bold: true },
  { s: 'G', x: 182, y: 594, size: 10, bold: true }, { s: 'H', x: 349, y: 514, size: 10, bold: true },
  { s: 'I', x: 443, y: 514, size: 10, bold: true }, { s: 'J', x: 348, y: 595, size: 10, bold: true },
  { s: 'K', x: 538, y: 595, size: 10, bold: true },
  // A
  { s: 'mIPSCs', x: 167, y: 14, size: 17 },
  { s: 'wild-type', x: 79, y: 34, size: 15, a: 'e' }, { s: 'R451C', x: 79, y: 56, size: 15, a: 'e' },
  { s: '50 pA', x: 282, y: 71, size: 10, a: 's' }, { s: '250 ms', x: 275, y: 82.5, size: 10 },
  { s: 'Cumulative Probability', x: 12, y: 161, size: 13, rot: -90 },
  { s: 'Amplitude (pA)', x: 101, y: 253, size: 13.2 },
  { s: 'Amplitude (pA)', x: 77, y: 174, size: 7, rot: -90 },
  { s: 'wild-type', x: 107, y: 112.7, size: 11, a: 's' }, { s: 'R451C', x: 107, y: 122.3, size: 11, a: 's' },
  { s: 'Cumulative Probability', x: 173.5, y: 161, size: 13, rot: -90 },
  { s: 'Inter-Event Interval (s)', x: 250, y: 253, size: 13.2 },
  { s: 'Frequency (Hz)', x: 238, y: 174, size: 7, rot: -90 },
  { s: 'wild-type', x: 268, y: 112.7, size: 11, a: 's' }, { s: 'R451C', x: 268, y: 122.3, size: 11, a: 's' },
  // C
  { s: 'mEPSCs', x: 512, y: 14, size: 17 },
  { s: 'wild-type', x: 425.7, y: 34.7, size: 15, a: 'e' }, { s: 'R451C', x: 425.7, y: 59.7, size: 15, a: 'e' },
  { s: '20 pA', x: 625, y: 72, size: 10, a: 's' }, { s: '250 ms', x: 628, y: 82, size: 10 },
  { s: 'Cumulative Probability', x: 356.7, y: 163, size: 13, rot: -90 },
  { s: 'Amplitude (pA)', x: 441.7, y: 253.3, size: 13.2 },
  { s: 'Amplitude (pA)', x: 416.7, y: 170, size: 7, rot: -90 },
  { s: 'wild-type', x: 458, y: 115, size: 11, a: 's' }, { s: 'R451C', x: 458, y: 123.3, size: 11, a: 's' },
  { s: 'Cumulative Probability', x: 514, y: 163, size: 13, rot: -90 },
  { s: 'Inter-Event Interval (s)', x: 595, y: 253.3, size: 13.2 },
  { s: 'Frequency (Hz)', x: 580.7, y: 176, size: 7, rot: -90 },
  { s: 'wild-type', x: 614, y: 115, size: 11, a: 's' }, { s: 'R451C', x: 614, y: 123.3, size: 11, a: 's' },
  // B
  { s: 'mIPSC Amplitude (pA)', x: 18, y: 363, size: 12.3, rot: -90 },
  { s: 'Postnatal day', x: 188.3, y: 488.3, size: 13.5 },
  { s: 'wild-type', x: 263, y: 293, size: 13, a: 's' }, { s: 'R451C', x: 263, y: 309.7, size: 13, a: 's' },
  // D
  { s: 'mEPSC Amplitude (pA)', x: 356.7, y: 371.7, size: 12.3, rot: -90 },
  { s: 'Postnatal day', x: 520, y: 489, size: 13.5 },
  { s: 'wild-type', x: 587, y: 293, size: 13, a: 's' }, { s: 'R451C', x: 587, y: 309.7, size: 13, a: 's' },
  // E
  { s: 'wild-type', x: 90.7, y: 515.5, size: 15, a: 'e' }, { s: 'R451C', x: 90.7, y: 537.5, size: 15, a: 'e' },
  { s: '100 pA', x: 282, y: 548.3, size: 10, a: 's' }, { s: '250 ms', x: 279, y: 561.7, size: 10 },
  // F
  { s: 'wild-type', x: 66.7, y: 601.7, size: 13.5 }, { s: 'R451C', x: 136.7, y: 601.7, size: 13.5 },
  { s: 'Cumulative Fraction', x: 10, y: 671.7, size: 12.3, rot: -90 },
  { s: 'Rise Time (ms)', x: 100, y: 753.3, size: 11 },
  { s: 'Small', x: 64, y: 716, size: 11, a: 's' }, { s: 'Large', x: 64, y: 725.5, size: 11, a: 's' },
  { s: 'Small', x: 137, y: 716, size: 11, a: 's' }, { s: 'Large', x: 137, y: 725.5, size: 11, a: 's' },
  // G
  { s: 'mIPSC Amplitude (pA)', x: 193.3, y: 673.3, size: 12.3, rot: -90 },
  { s: 'wild-type (14/3)', x: 224, y: 605.7, size: 10.5, a: 's' }, { s: 'R451C (17/3)', x: 224, y: 615.7, size: 10.5, a: 's' },
  // H
  { s: 'D-APV', x: 361.7, y: 519, size: 8.5, a: 's' }, { s: 'NBQX', x: 391.7, y: 533.3, size: 8.5, a: 's' },
  { s: 'Vh= -20 mV', x: 393.3, y: 549, size: 8.3, a: 's' }, { s: 'Vh= -60 mV', x: 355, y: 561.7, size: 8.3, a: 's' },
  // I
  { s: 'wild-type', x: 483.3, y: 521.7, size: 13.5 }, { s: 'R451C', x: 590, y: 521.7, size: 13.5 },
  { s: 'GABAR IPSC', x: 533.3, y: 530, size: 8 }, { s: '(+PTX)', x: 529.2, y: 537.7, size: 8, c: BLUE },
  { s: 'AMPAR EPSC', x: 531.7, y: 568.3, size: 8 }, { s: '(+NBQX)', x: 530, y: 576.7, size: 8, c: RED },
  { s: '200 pA', x: 617.5, y: 566, size: 10.5, a: 's' }, { s: '10 ms', x: 611, y: 576.5, size: 10.5 },
  // J
  { s: 'wild-type', x: 408.3, y: 598.3, size: 13.5 }, { s: '(11/3)', x: 408.3, y: 611.7, size: 10.5 },
  { s: 'R451C', x: 485, y: 598.3, size: 13.5 }, { s: '(12/4)', x: 485, y: 611.7, size: 10.5 },
  { s: 'Current (nA)', x: 354, y: 682.5, size: 10.5, rot: -90 },
  // K
  { s: 'Inhibition/Excitation', x: 540, y: 666, size: 12.3, rot: -90 },
  { s: 'Ratio', x: 553.5, y: 666, size: 12.3, rot: -90 },
];

const LINES = [
  { x1: 92, x2: 105, y: 112.7, w: 2, c: LGRAY }, { x1: 92, x2: 105, y: 122.3, w: 2.4, c: DARK },
  { x1: 251.7, x2: 265, y: 112.7, w: 2, c: LGRAY }, { x1: 251.7, x2: 265, y: 122.3, w: 2.4, c: DARK },
  { x1: 441.7, x2: 455, y: 115, w: 2, c: LGRAY }, { x1: 441.7, x2: 455, y: 123.3, w: 2.4, c: DARK },
  { x1: 598.3, x2: 611.7, y: 115, w: 2, c: LGRAY }, { x1: 598.3, x2: 611.7, y: 123.3, w: 2.4, c: DARK },
  { x1: 46.7, x2: 61.7, y: 716, w: 2, c: LGRAY, dash: true }, { x1: 46.7, x2: 61.7, y: 725.5, w: 2, c: DARK },
  { x1: 120, x2: 133.3, y: 716, w: 2, c: LGRAY, dash: true }, { x1: 120, x2: 133.3, y: 725.5, w: 2, c: DARK },
];

const BOXES = [
  { x: 251.7, y: 288.5, s: 9, f: '#fff' }, { x: 251.7, y: 305.3, s: 9, f: ORANGE },
  { x: 574.5, y: 288.5, s: 9, f: '#fff' }, { x: 574.5, y: 305.3, s: 9, f: ORANGE },
  { x: 213.3, y: 601.5, s: 8.5, f: '#fff' }, { x: 213.3, y: 611.5, s: 8.5, f: ORANGE },
];

/* ===================== COMPONENTS ===================== */

function ChartBox({ spec }: { spec: any }) {
  const ref = useRef<HTMLCanvasElement>(null);
  useEffect(() => {
    if (!ref.current) return;
    const ch = new Chart(ref.current, spec.make());
    return () => ch.destroy();
  }, [spec]);
  const p = spec.p;
  return (
    <canvas ref={ref} width={p.w} height={p.h}
      style={{ position: 'absolute', left: p.left, top: p.top, width: p.w, height: p.h }} />
  );
}

function Tx({ s, x, y, size = 12, a = 'm', rot = 0, bold = false, c = '#222' }: TxP) {
  const tx = a === 'm' ? '-50%' : a === 'e' ? '-100%' : '0';
  return (
    <div style={{
      position: 'absolute', left: x, top: y, transform: `translate(${tx}, -50%)${rot ? ` rotate(${rot}deg)` : ''}`,
      fontSize: size, lineHeight: 1, whiteSpace: 'nowrap', color: c, fontFamily: FONT, fontWeight: bold ? 'bold' : 'normal',
    }}>{s}</div>
  );
}

export default function App() {
  return (
    <div style={{ position: 'absolute', left: 0, top: 0, width: 669, height: 761, background: '#fff', overflow: 'hidden', fontFamily: FONT }}>
      {SPECS.map((s, i) => <ChartBox key={i} spec={s} />)}
      {LINES.map((l, i) => (
        <div key={'l' + i} style={{
          position: 'absolute', left: l.x1, top: l.y - l.w / 2, width: l.x2 - l.x1, height: l.w,
          background: l.dash ? `repeating-linear-gradient(90deg, ${l.c} 0 4px, transparent 4px 6.5px)` : l.c,
        }} />
      ))}
      {BOXES.map((b, i) => (
        <div key={'b' + i} style={{
          position: 'absolute', left: b.x, top: b.y, width: b.s, height: b.s, boxSizing: 'border-box',
          border: '1px solid #333', background: b.f,
        }} />
      ))}
      {TEXTS.map((t, i) => <Tx key={'t' + i} {...t} />)}
    </div>
  );
}
